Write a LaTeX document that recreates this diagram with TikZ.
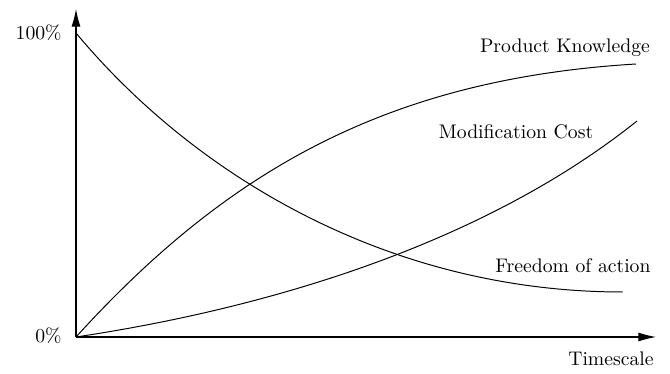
\documentclass[tikz,border=0pt]{standalone}
\usetikzlibrary{arrows.meta}
\begin{document}
\begin{tikzpicture}[x=0.508pt,y=-0.508pt,
  axis/.style={line width=0.55pt,-{Latex[length=9pt,width=4.6pt]}},
  curve/.style={line width=0.5pt},
  lbl/.style={inner sep=0pt,font=\fontsize{10}{12}\selectfont}]
\useasboundingbox (0,0) rectangle (670,374);
\coordinate (O) at (76,337);
\coordinate (ytip) at (76,9);
\coordinate (xtip) at (656,337);
\draw[axis] (O) -- (ytip);
\draw[axis] (O) -- (xtip);
% Freedom of action
\coordinate (f0) at (76,33);
\coordinate (f3) at (623,292);
\draw[curve] (f0) .. controls (196,177) and (390,292) .. (f3);
% Product Knowledge
\coordinate (p3) at (636,64);
\draw[curve] (O) .. controls (226,172) and (386,79) .. (p3);
% Modification Cost
\coordinate (m3) at (637,121);
\draw[curve] (O) .. controls (276,307) and (487,241) .. (m3);
\node[lbl,anchor=base] (pk) at (565,53) {Product Knowledge};
\node[lbl,anchor=base] (mc) at (516,139) {Modification Cost};
\node[lbl,anchor=base] (fa) at (573,273) {Freedom of action};
\node[lbl,anchor=base east] (hund) at (62,40) {100\%};
\node[lbl,anchor=base east] (zero) at (62,343) {0\%};
\node[lbl,anchor=base] (ts) at (611,366) {Timescale};
\end{tikzpicture}
\end{document}
